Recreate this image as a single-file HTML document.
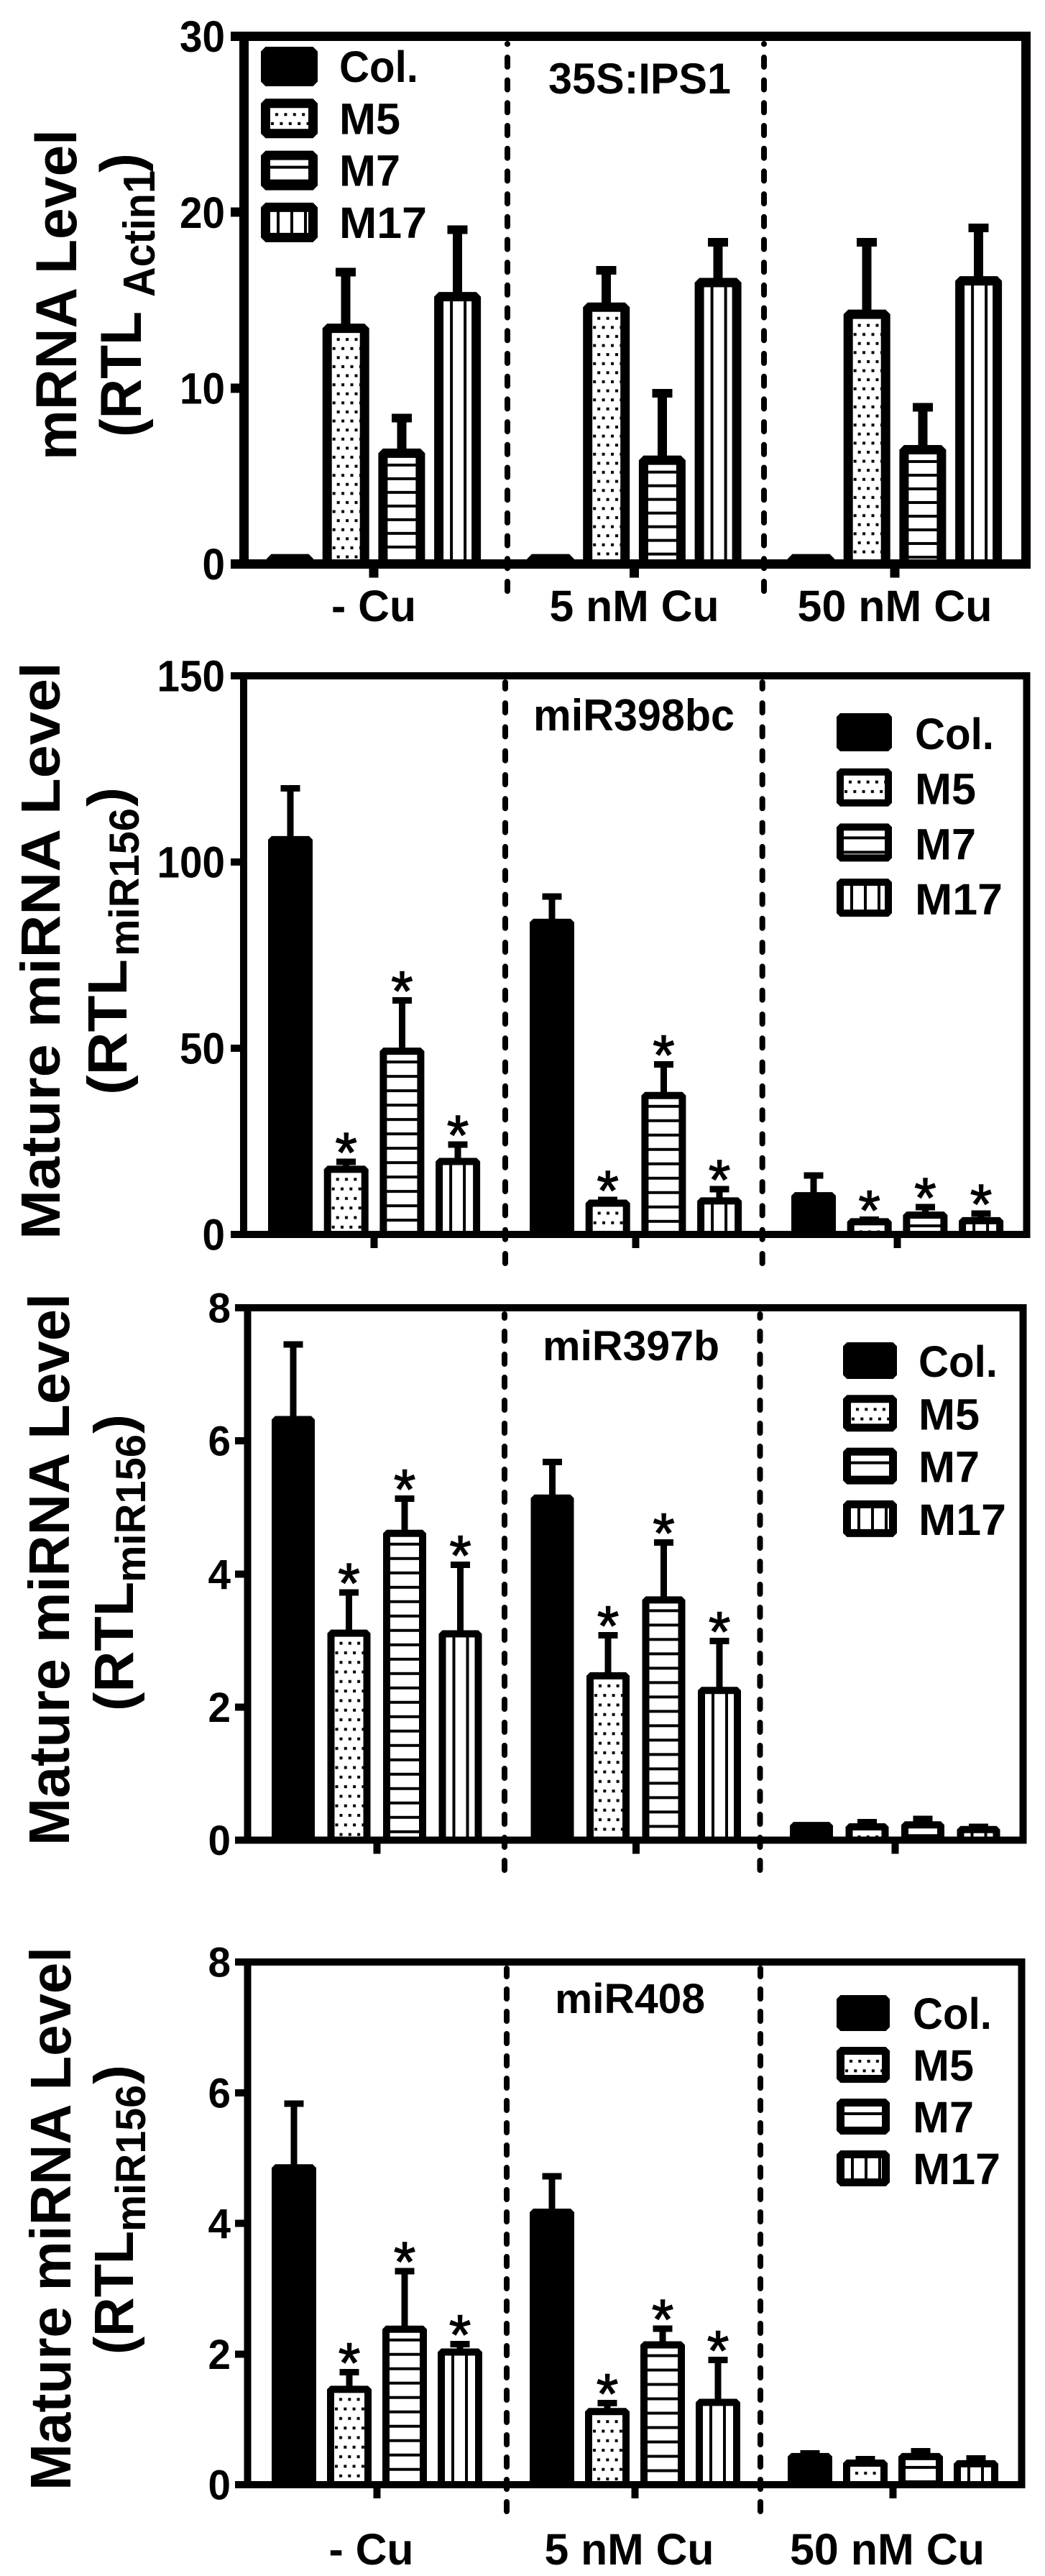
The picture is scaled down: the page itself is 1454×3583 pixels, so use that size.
<!DOCTYPE html>
<html lang="en">
<head>
<meta charset="utf-8">
<title>mRNA and mature miRNA levels under copper treatments</title>
<style>
html,body{margin:0;padding:0;background:#fff}
svg{display:block}
text{font-family:"Liberation Sans",sans-serif;font-weight:700;fill:#000}
</style>
</head>
<body>
<svg id="figure" width="1454" height="3583" viewBox="0 0 1454 3583">
<rect x="0" y="0" width="1454" height="3583" fill="#fff"/>
<defs id="hatch-defs"></defs>

<g>
<text transform="translate(106,640) rotate(-90)" font-size="81" textLength="460" lengthAdjust="spacingAndGlyphs">mRNA Level</text>
<text transform="translate(196,608) rotate(-90)" font-size="81" textLength="175" lengthAdjust="spacingAndGlyphs">(RTL</text>
<text transform="translate(215,413) rotate(-90)" font-size="62" textLength="176" lengthAdjust="spacingAndGlyphs">Actin1</text>
<text transform="translate(196,240) rotate(-90)" font-size="81" textLength="27" lengthAdjust="spacingAndGlyphs">)</text>
</g>
<text x="763" y="130" font-size="60" textLength="254" lengthAdjust="spacingAndGlyphs">35S:IPS1</text>

<g>
<text transform="translate(83,1724) rotate(-90)" font-size="77" textLength="803" lengthAdjust="spacingAndGlyphs">Mature miRNA Level</text>
<text transform="translate(176,1523) rotate(-90)" font-size="77" textLength="189" lengthAdjust="spacingAndGlyphs">(RTL</text>
<text transform="translate(193,1330) rotate(-90)" font-size="58" textLength="206" lengthAdjust="spacingAndGlyphs">miR156</text>
<text transform="translate(176,1122) rotate(-90)" font-size="77" textLength="27" lengthAdjust="spacingAndGlyphs">)</text>
</g>
<text x="742" y="1016" font-size="62" textLength="280" lengthAdjust="spacingAndGlyphs">miR398bc</text>

<g>
<text transform="translate(96,2567) rotate(-90)" font-size="80" textLength="768" lengthAdjust="spacingAndGlyphs">Mature miRNA Level</text>
<text transform="translate(185,2380) rotate(-90)" font-size="77" textLength="180" lengthAdjust="spacingAndGlyphs">(RTL</text>
<text transform="translate(202,2201) rotate(-90)" font-size="58" textLength="206" lengthAdjust="spacingAndGlyphs">miR156</text>
<text transform="translate(185,1994) rotate(-90)" font-size="77" textLength="27" lengthAdjust="spacingAndGlyphs">)</text>
</g>
<text x="755" y="1892" font-size="58" textLength="246" lengthAdjust="spacingAndGlyphs">miR397b</text>

<g>
<text transform="translate(98,3464) rotate(-90)" font-size="80" textLength="756" lengthAdjust="spacingAndGlyphs">Mature miRNA Level</text>
<text transform="translate(185,3275) rotate(-90)" font-size="77" textLength="172" lengthAdjust="spacingAndGlyphs">(RTL</text>
<text transform="translate(202,3104) rotate(-90)" font-size="58" textLength="204" lengthAdjust="spacingAndGlyphs">miR156</text>
<text transform="translate(185,2899) rotate(-90)" font-size="77" textLength="27" lengthAdjust="spacingAndGlyphs">)</text>
</g>
<text x="772" y="2800" font-size="58" textLength="209" lengthAdjust="spacingAndGlyphs">miR408</text>

<g id="plot-layer"></g>
</svg>

<script>
/* ---------- chart data (rows: Col., M5, M7, M17; columns: - Cu, 5 nM Cu, 50 nM Cu) ---------- */
const categories = ['- Cu', '5 nM Cu', '50 nM Cu'];
const seriesNames = ['Col.', 'M5', 'M7', 'M17'];

const ips1Ticks = [0, 10, 20, 30];
const ips1Means = [
  [0.3, 0.3, 0.3],
  [13.4, 14.6, 14.2],
  [6.3, 5.9, 6.5],
  [15.2, 16.0, 16.1]
];
const ips1Upper = [
  [0.3, 0.3, 0.3],
  [16.6, 16.7, 18.3],
  [8.3, 9.7, 8.9],
  [19.0, 18.3, 19.1]
];
const ips1Stars = [
  [0, 0, 0],
  [0, 0, 0],
  [0, 0, 0],
  [0, 0, 0]
];

const mir398Ticks = [0, 50, 100, 150];
const mir398Means = [
  [106, 83.8, 10.4],
  [17.5, 8.4, 3.4],
  [49.2, 37.3, 5.2],
  [19.6, 9.0, 3.7]
];
const mir398Upper = [
  [119.8, 90.7, 15.8],
  [19.5, 9.3, 4.0],
  [62.8, 45.7, 7.3],
  [24.1, 12.2, 5.6]
];
const mir398Stars = [
  [0, 0, 0],
  [1, 1, 1],
  [1, 1, 1],
  [1, 1, 1]
];

const mir397Ticks = [0, 2, 4, 6, 8];
const mir397Means = [
  [6.32, 5.14, 0.22],
  [3.11, 2.47, 0.20],
  [4.61, 3.61, 0.23],
  [3.10, 2.25, 0.16]
];
const mir397Upper = [
  [7.45, 5.68, 0.22],
  [3.72, 3.08, 0.27],
  [5.13, 4.47, 0.32],
  [4.14, 2.99, 0.20]
];
const mir397Stars = [
  [0, 0, 0],
  [1, 1, 0],
  [1, 1, 0],
  [1, 1, 0]
];

const mir408Ticks = [0, 2, 4, 6, 8];
const mir408Means = [
  [4.85, 4.17, 0.43],
  [1.46, 1.12, 0.33],
  [2.38, 2.14, 0.43],
  [2.03, 1.26, 0.32]
];
const mir408Upper = [
  [5.83, 4.72, 0.48],
  [1.72, 1.25, 0.39],
  [3.27, 2.39, 0.51],
  [2.15, 1.91, 0.40]
];
const mir408Stars = [
  [0, 0, 0],
  [1, 1, 0],
  [1, 1, 0],
  [1, 1, 0]
];

/* ---------- panel layout ---------- */
const ips1Layout = {id:'ips1', left:339.5, right:1427.5, top:50.5, base:784.5, stroke:13, tickLeft:321, tickRight:312, tickSize:61,
  barLeft:371, barW:65, barPitch:77.7, groupPitch:362.5, barStroke:13, stemW:13, capW:28, capH:12,
  dashA:706, dashB:1063, dashBottom:822, dashPeriod:31.7,
  dotX:12.4, dotY:12.6, lineStep:19,
  legX:363, legY:65, legW:79, legH:55, legStep:72.3, legStroke:13, legTextX:472, legBase:49,
  xBase:864, labelDx:0};
const mir398Layout = {id:'mir398', left:339, right:1428.5, top:940, base:1717, stroke:10, tickLeft:321, tickRight:312, tickSize:61,
  barLeft:373, barW:62, barPitch:77.7, groupPitch:364, barStroke:10, stemW:9, capW:27, capH:9,
  dashA:703, dashB:1060.7, dashBottom:1757, dashPeriod:33.3,
  dotX:12.3, dotY:13.3, lineStep:20,
  legX:1164, legY:992, legW:77, legH:53, legStep:76.7, legStroke:10, legTextX:1273, legBase:50,
  xBase:0, labelDx:0};
const mir397Layout = {id:'mir397', left:344.5, right:1423.5, top:1819, base:2559.5, stroke:10, tickLeft:327, tickRight:320, tickSize:58,
  barLeft:378, barW:60, barPitch:77.5, groupPitch:360.5, barStroke:10, stemW:9, capW:27, capH:9,
  dashA:702, dashB:1057.5, dashBottom:2601, dashPeriod:32,
  dotX:12.3, dotY:13.3, lineStep:20,
  legX:1173, legY:1867, legW:75, legH:51, legStep:73.3, legStroke:11, legTextX:1278, legBase:48,
  xBase:0, labelDx:0};
const mir408Layout = {id:'mir408', left:344.5, right:1421.5, top:2729, base:3456, stroke:10, tickLeft:327, tickRight:320, tickSize:58,
  barLeft:378, barW:62, barPitch:77, groupPitch:359, barStroke:10, stemW:9, capW:27, capH:9,
  dashA:705, dashB:1058, dashBottom:3493, dashPeriod:31,
  dotX:12.3, dotY:13.3, lineStep:20,
  legX:1164, legY:2775, legW:74, legH:50, legStep:72, legStroke:11, legTextX:1270, legBase:47,
  xBase:3567, labelDx:-8};

const labelWidths = {'- Cu':118, '5 nM Cu':236, '50 nM Cu':271, 'Col.':110, 'M5':85, 'M7':85, 'M17':122};
const NS = 'http://www.w3.org/2000/svg';
const plotLayer = document.getElementById('plot-layer');
const hatchDefs = document.getElementById('hatch-defs');
let hatchCount = 0;

function shape(parent, tag, attrs) {
  const node = document.createElementNS(NS, tag);
  for (const key in attrs) node.setAttribute(key, attrs[key]);
  parent.appendChild(node);
  return node;
}

function box(parent, x, y, w, h) {
  return shape(parent, 'rect', {x: x, y: y, width: w, height: h, fill: '#000', 'shape-rendering': 'crispEdges'});
}

function makeHatch(kind, ox, oy, cfg) {
  hatchCount += 1;
  const id = 'hatch-' + hatchCount;
  let tileW = 20, tileH = 20;
  if (kind === 1) { tileW = cfg.dotX; tileH = cfg.dotY * 2; }
  if (kind === 2) { tileH = cfg.lineStep; }
  if (kind === 3) { tileW = 19; }
  const p = shape(hatchDefs, 'pattern', {id: id, patternUnits: 'userSpaceOnUse', x: ox, y: oy, width: tileW, height: tileH});
  shape(p, 'rect', {x: 0, y: 0, width: tileW, height: tileH, fill: '#fff'});
  if (kind === 1) {
    shape(p, 'rect', {x: 7, y: 7, width: 4, height: 4, fill: '#000'});
    shape(p, 'rect', {x: 1, y: 7 + cfg.dotY, width: 4, height: 4, fill: '#000'});
  }
  if (kind === 2) {
    shape(p, 'rect', {x: 0, y: 8, width: tileW, height: 4, fill: '#000'});
  }
  if (kind === 3) {
    shape(p, 'rect', {x: 9, y: 0, width: 4, height: tileH, fill: '#000'});
  }
  return 'url(#' + id + ')';
}

function drawPanel(cfg, ticks, means, upper, stars) {
  const maxValue = ticks[ticks.length - 1];
  const yScale = function (v) { return cfg.base - v * (cfg.base - cfg.top) / maxValue; };
  const xBar = function (g, s) { return cfg.barLeft + g * cfg.groupPitch + s * cfg.barPitch; };
  const xGroup = function (g) { return xBar(g, 0) + (3 * cfg.barPitch + cfg.barW) / 2; };

  const panel = shape(plotLayer, 'g', {});
  
  

  /* bars and error bars */
  categories.forEach(function (cat, g) {
    seriesNames.forEach(function (name, s) {
      const x = xBar(g, s), sw = cfg.barStroke;
      const cx = x + cfg.barW / 2;
      const top = yScale(means[s][g]);
      const up = yScale(upper[s][g]);

      if (upper[s][g] > means[s][g]) {
        const errorBar = shape(panel, 'g', {});
        
        
        box(errorBar, cx - cfg.stemW / 2, up, cfg.stemW, top - up);
        box(errorBar, cx - cfg.capW / 2, up - cfg.capH / 2, cfg.capW, cfg.capH);
      }

      const fill = s === 0 ? '#000' : makeHatch(s, x + sw, top + sw / 2, cfg);
      const bar = shape(panel, 'rect', {
        x: x + sw / 2, y: top, width: cfg.barW - sw, height: cfg.base - top,
        fill: fill, stroke: '#000', 'stroke-width': sw, 'stroke-linejoin': 'bevel'
      });
      
      

      if (stars[s][g]) {
        const star = shape(panel, 'text', {
          x: cx, y: up - cfg.capH / 2 - 27 + 45, 'text-anchor': 'middle', 'font-size': 78,
          stroke: '#000', 'stroke-width': 1.4, style: 'font-weight:400'
        });
        star.textContent = '*';
        
        
      }
    });
  });

  /* frame */
  const half = cfg.stroke / 2;
  const frame = shape(panel, 'g', {});
  
  
  box(frame, cfg.left - half, cfg.top - half, cfg.right - cfg.left + cfg.stroke, cfg.stroke);
  box(frame, cfg.left - half, cfg.base - half, cfg.right - cfg.left + cfg.stroke, cfg.stroke);
  box(frame, cfg.left - half, cfg.top - half, cfg.stroke, cfg.base - cfg.top + cfg.stroke);
  box(frame, cfg.right - half, cfg.top - half, cfg.stroke, cfg.base - cfg.top + cfg.stroke);

  /* dashed separators */
  [cfg.dashA, cfg.dashB].forEach(function (dx) {
    const dash = shape(panel, 'line', {
      x1: dx, x2: dx, y1: cfg.dashBottom, y2: cfg.top + half + 4,
      stroke: '#000', 'stroke-width': 8, 'stroke-linecap': 'round',
      'stroke-dasharray': '13 ' + (cfg.dashPeriod - 13)
    });
    
    
  });

  /* y axis ticks */
  ticks.forEach(function (v) {
    const y = yScale(v);
    const tick = box(panel, cfg.tickLeft, y - half, cfg.left - cfg.tickLeft, cfg.stroke);
    
    
    const label = String(v);
    const len = label.length * 31.5;
    const txt = shape(panel, 'text', {
      x: cfg.tickRight - len + 1, y: y + cfg.tickSize * 0.355, 'font-size': cfg.tickSize,
      textLength: len, lengthAdjust: 'spacingAndGlyphs'
    });
    txt.textContent = label;
    
    
  });

  /* x axis ticks and labels */
  categories.forEach(function (cat, g) {
    const gx = xGroup(g);
    const tick = box(panel, gx - half, cfg.base, cfg.stroke, 19);
    
    
    if (cfg.xBase) {
      const len = labelWidths[cat];
      const txt = shape(panel, 'text', {
        x: gx + cfg.labelDx - len / 2, y: cfg.xBase, 'font-size': 61,
        textLength: len, lengthAdjust: 'spacingAndGlyphs'
      });
      txt.textContent = cat;
      
      
    }
  });

  /* legend */
  seriesNames.forEach(function (name, s) {
    const sw = cfg.legStroke;
    const ly = cfg.legY + s * cfg.legStep;
    const entry = shape(panel, 'g', {});
    
    
    const fill = s === 0 ? '#000' : makeHatch(s, cfg.legX + sw, ly + sw, cfg);
    const swatch = shape(entry, 'rect', {
      x: cfg.legX + sw / 2, y: ly + sw / 2, width: cfg.legW - sw, height: cfg.legH - sw,
      fill: fill, stroke: '#000', 'stroke-width': sw, 'stroke-linejoin': 'bevel'
    });
    
    
    const txt = shape(entry, 'text', {
      x: cfg.legTextX, y: ly + cfg.legBase, 'font-size': 61,
      textLength: labelWidths[name], lengthAdjust: 'spacingAndGlyphs'
    });
    txt.textContent = name;
    
    
  });
}

drawPanel(ips1Layout, ips1Ticks, ips1Means, ips1Upper, ips1Stars);
drawPanel(mir398Layout, mir398Ticks, mir398Means, mir398Upper, mir398Stars);
drawPanel(mir397Layout, mir397Ticks, mir397Means, mir397Upper, mir397Stars);
drawPanel(mir408Layout, mir408Ticks, mir408Means, mir408Upper, mir408Stars);
</script>
</body>
</html>
